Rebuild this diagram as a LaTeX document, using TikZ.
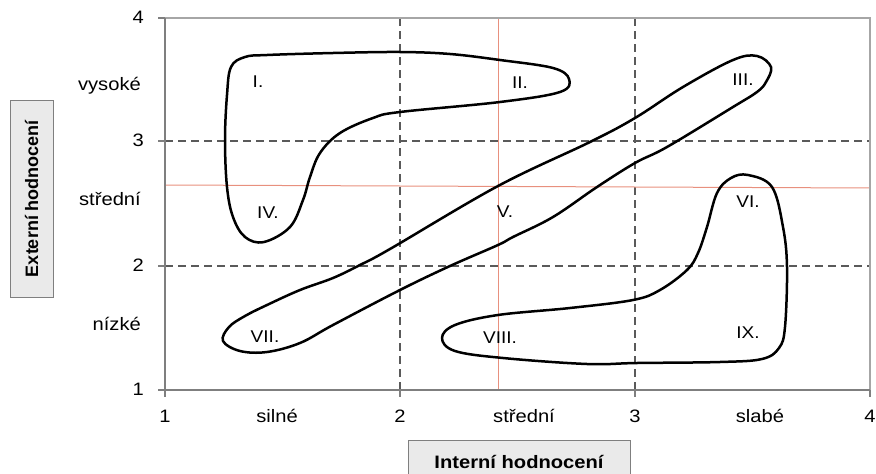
\documentclass[tikz,border=0pt]{standalone}
\usepackage{fontspec}
\setmainfont{Liberation Sans}[FakeStretch=1.12]
\newfontfamily\plainsans{Liberation Sans}
\definecolor{axisgray}{HTML}{7F7F7F}
\definecolor{framegray}{HTML}{A6A6A6}
\definecolor{gridgray}{HTML}{5A5A5A}
\definecolor{redline}{HTML}{E8907E}
\definecolor{boxfill}{HTML}{EAEAEA}

\begin{document}
\begin{tikzpicture}[x=1pt,y=-1pt,
  ticklbl/.style={font=\fontsize{18}{20}\selectfont,inner sep=0pt},
  zone/.style={font=\fontsize{17}{19}\selectfont,inner sep=0pt},
  titlebox/.style={draw=axisgray,fill=boxfill,line width=1pt,inner sep=0pt},
  blob/.style={line width=2.5pt,line join=round},
  gridline/.style={gridgray,line width=1.3pt,dash pattern=on 8pt off 5pt}]

\useasboundingbox (0,0) rectangle (876,474);
\clip (0,0) rectangle (876,474);

% dashed grid
\foreach \x in {400,635} { \draw[gridline] (\x,18) -- (\x,390); }
\foreach \y in {141,266} { \draw[gridline] (165,\y) -- (870,\y); }

% red middle lines
\draw[redline,line width=1pt] (498,18) -- (498,390);
\draw[redline,line width=1pt] (165,185) -- (870,188);

% frame and axes
\draw[framegray,line width=1.2pt] (165,18) -- (870,18) -- (870,390);
\draw[axisgray,line width=1.5pt] (165,18) -- (165,390) -- (870,390);
\foreach \y in {18,141,266,390} { \draw[axisgray,line width=1.5pt] (158,\y) -- (165,\y); }
\foreach \x in {165,400,635,870} { \draw[axisgray,line width=1.5pt] (\x,390) -- (\x,397); }

% axis numbers
\foreach \v/\y in {4/18,3/141,2/266,1/390} { \node[ticklbl,anchor=base east] (yn\v) at (144,\y+5) {\v}; }
\foreach \v/\x in {1/165,2/400,3/635,4/870} { \node[ticklbl,anchor=base] (xn\v) at (\x,422) {\v}; }

% category labels
\node[ticklbl,anchor=base east] (yhigh) at (141,90) {vysoké};
\node[ticklbl,anchor=base east] (ymid) at (141,205) {střední};
\node[ticklbl,anchor=base east] (ylow) at (141,330) {nízké};
\node[ticklbl,anchor=base] (xstrong) at (277,422) {silné};
\node[ticklbl,anchor=base] (xmid) at (524,422) {střední};
\node[ticklbl,anchor=base] (xweak) at (760,422) {slabé};

% axis titles
\node[titlebox,minimum width=222pt,minimum height=44pt,font=\bfseries\fontsize{18}{20}\selectfont] (xtitle) at (519,462) {Interní hodnocení};
\node[titlebox,rotate=90,minimum width=197pt,minimum height=43pt,font=\plainsans\bfseries\fontsize{18}{20}\selectfont] (ytitle) at (31.5,198.5) {Externí hodnocení};

% zone I, II, IV
\draw[blob] plot[smooth cycle,tension=0.6] coordinates {(231,67) (245,57) (267,55) (333,53) (400,52) (450,54) (500,60) (553,68) (569,79) (560,92) (500,102) (400,112) (373,118) (340,133) (320,153) (310,177) (303,200) (290,227) (264,242) (245,237) (233,217) (227,187) (225,140) (227,95)};
% zone III, V, VII
\draw[blob] plot[smooth cycle,tension=0.6] coordinates {(229,327) (245,316) (267,305) (300,290) (333,278) (360,265) (390,249) (498,186) (590,142) (635,118) (683,87) (733,60) (757,56) (771,67) (766,82) (757,92) (733,107) (667,147) (635,163) (597,187) (553,217) (513,237) (498,245) (450,266) (400,290) (333,325) (300,343) (267,352) (240,351) (223,341)};
% zone VI, VIII, IX
\draw[blob] plot[smooth cycle,tension=0.6] coordinates {(748,175) (772,187) (783,227) (787,267) (785,327) (779,348) (762,359) (720,362) (637,363) (587,364) (503,358) (455,351) (442,338) (455,325) (498,315) (570,308) (633,300) (660,290) (687,270) (698,253) (707,227) (717,193) (731,178)};

% zone numbers
\foreach \n/\t/\x/\y in {z1/I./258/82, z2/II./520/83, z3/III./743/80, z4/IV./268/213, z5/V./505/212, z6/VI./748/202, z7/VII./265/337, z8/VIII./500/338, z9/IX./748/333}
  { \node[zone] (\n) at (\x,\y) {\t}; }

\end{tikzpicture}
\end{document}
